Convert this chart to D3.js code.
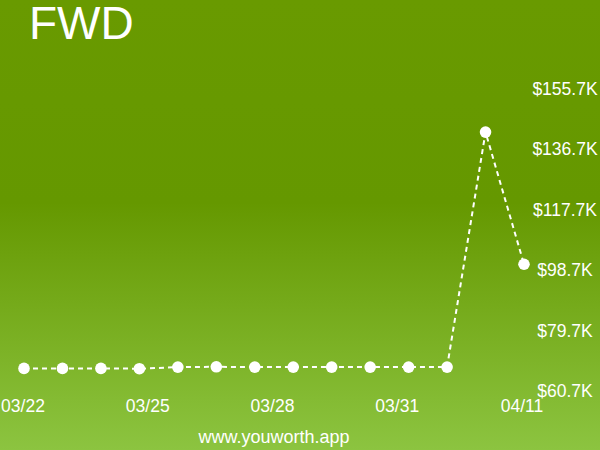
<!DOCTYPE html>
<html>
<head>
<meta charset="utf-8">
<script src="https://cdn.jsdelivr.net/npm/d3@7"></script>
<style>
  html, body { margin: 0; padding: 0; }
  svg { display: block; font-family: "Liberation Sans", Arial, sans-serif; }
</style>
</head>
<body>
<div id="chart"></div>
<script>
// net worth by day, in thousands
var dates = ["03/22","03/23","03/24","03/25","03/26","03/27","03/28",
    "03/29","03/30","03/31","04/01","04/02","04/10","04/11"];
var values = [67.8, 67.8, 67.8, 67.7, 68.2, 68.3, 68.2,
    68.2, 68.2, 68.2, 68.2, 68.2, 142.0, 100.5];
var xLabels = ["03/22","03/25","03/28","03/31","04/11"];
var yTicks = [60.7, 79.7, 98.7, 117.7, 136.7, 155.7];

var W = 600, H = 450;

var svg = d3.select("#chart").append("svg")
    .attr("width", W)
    .attr("height", H);

var grad = svg.append("defs").append("linearGradient")
    .attr("id", "bg")
    .attr("x1", 0).attr("y1", 0)
    .attr("x2", 0).attr("y2", 1);
grad.append("stop").attr("offset", "0%").attr("stop-color", "#699a00");
grad.append("stop").attr("offset", "45%").attr("stop-color", "#659800");
grad.append("stop").attr("offset", "100%").attr("stop-color", "#8cc440");

svg.append("rect")
    .attr("width", W)
    .attr("height", H)
    .attr("fill", "url(#bg)");

svg.append("text")
    .text("FWD")
    .attr("x", 29)
    .attr("y", 39)
    .attr("fill", "#fff")
    .attr("font-size", "46px");

var x = d3.scaleLinear()
    .domain([0, dates.length - 1])
    .range([24, 524]);
var y = d3.scaleLinear()
    .domain([60.7, 155.7])
    .range([391, 88.5]);

// labels spread evenly over the full x span
var xl = d3.scalePoint()
    .domain(xLabels)
    .range([23, 522]);

svg.selectAll(".ylab")
    .data(yTicks)
    .enter()
    .append("text")
    .attr("class", "ylab")
    .text(function(d){ return "$" + d.toFixed(1) + "K"; })
    .attr("x", 565)
    .attr("y", function(d){ return y(d); })
    .attr("dy", "0.35em")
    .attr("text-anchor", "middle")
    .attr("fill", "#fff")
    .attr("font-size", "17.5px");

svg.selectAll(".xlab")
    .data(xLabels)
    .enter()
    .append("text")
    .attr("class", "xlab")
    .text(function(d){ return d; })
    .attr("x", function(d){ return xl(d); })
    .attr("y", 412)
    .attr("text-anchor", "middle")
    .attr("fill", "#fff")
    .attr("font-size", "17.5px");

var line = d3.line()
    .x(function(d, i){ return x(i); })
    .y(function(d){ return y(d); });

svg.append("path")
    .datum(values)
    .attr("d", line)
    .attr("fill", "none")
    .attr("stroke", "#fff")
    .attr("stroke-width", 2)
    .attr("stroke-dasharray", "5,4");

svg.selectAll(".dot")
    .data(values)
    .enter()
    .append("circle")
    .attr("class", "dot")
    .attr("cx", function(d, i){ return x(i); })
    .attr("cy", function(d){ return y(d); })
    .attr("r", 5.8)
    .attr("fill", "#fff");

svg.append("text")
    .text("www.youworth.app")
    .attr("x", 274)
    .attr("y", 443)
    .attr("text-anchor", "middle")
    .attr("fill", "#fff")
    .attr("font-size", "18px");
</script>
</body>
</html>
